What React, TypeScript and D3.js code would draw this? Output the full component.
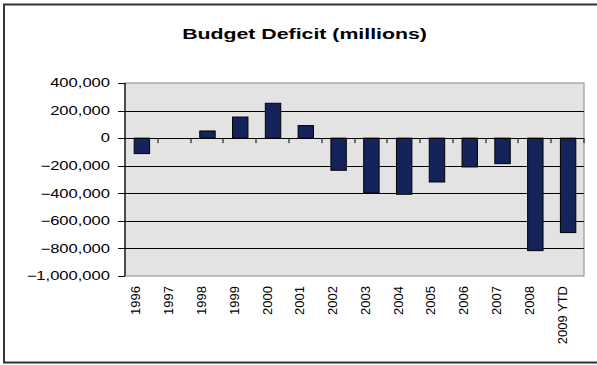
import React from "react";
import * as d3 from "d3";

const categories = ["1996","1997","1998","1999","2000","2001","2002","2003","2004","2005","2006","2007","2008","2009 YTD"];
const deficits = [-112000, 0, 52000, 153000, 253000, 91000, -233000, -398000, -407000, -318000, -209000, -185000, -816000, -685000];
const yTicks = [400000, 200000, 0, -200000, -400000, -600000, -800000, -1000000];
const title = "Budget Deficit (millions)";

const W = 597, H = 365;
const plot = { left: 125, right: 584, top: 83, bottom: 276 };

export default function App() {
  const x = d3.scaleBand<string>().domain(categories).range([plot.left, plot.right]).paddingInner(0).paddingOuter(0);
  const y = d3.scaleLinear().domain([-1000000, 400000]).range([plot.bottom, plot.top]);
  const fmt = d3.format(",");
  const bw = x.bandwidth() * 0.47;
  const y0 = y(0);
  const font = "'Liberation Sans', Arial, sans-serif";
  return (
    <svg width={W} height={H} style={{ position: "absolute", left: 0, top: 0, background: "#fff" }}>
      <rect x={4} y={4.5} width={620} height={358} fill="#fff" stroke="#333" strokeWidth={2} />
      <g transform={`translate(${W / 2 + 6},38.5) scale(1.42,1)`}>
        <text x={0} y={0} textAnchor="middle" fontFamily={font} fontWeight="bold" fontSize={15} fill="#000">{title}</text>
      </g>
      <rect x={plot.left} y={plot.top} width={plot.right - plot.left} height={plot.bottom - plot.top} fill="#e3e3e3" stroke="#999" strokeWidth={1.2} />
      {yTicks.filter(t => t !== 400000 && t !== -1000000 && t !== 0).map(t => (
        <line key={"g" + t} x1={plot.left} x2={plot.right} y1={Math.round(y(t)) + 0.5} y2={Math.round(y(t)) + 0.5} stroke="#000" strokeWidth={1} />
      ))}
      {categories.map((c, i) => {
        const v = deficits[i];
        const top = Math.min(y(v), y0);
        const h = Math.abs(y(v) - y0);
        return (
          <rect key={c} x={(x(c) as number) + x.bandwidth() / 2 - bw / 2 + 0.5} y={top} width={bw} height={h} fill="#14245a" stroke="#000" strokeWidth={1} />
        );
      })}
      <line x1={plot.left} x2={plot.right} y1={Math.round(y0) + 0.5} y2={Math.round(y0) + 0.5} stroke="#000" strokeWidth={1.2} />
      {categories.map((c, i) => {
        const bx = Math.round((x(c) as number) + x.bandwidth());
        return <line key={"t" + c} x1={bx} x2={bx} y1={y0} y2={y0 + 5} stroke="#000" strokeWidth={1} />;
      })}
      <line x1={plot.left} x2={plot.left} y1={plot.top} y2={plot.bottom} stroke="#000" strokeWidth={1.2} />
      {yTicks.map(t => (
        <g key={"y" + t}>
          <line x1={plot.left - 7} x2={plot.left} y1={Math.round(y(t)) + 0.5} y2={Math.round(y(t)) + 0.5} stroke="#000" strokeWidth={1} />
          <g transform={`translate(110,${y(t) + 4.3}) scale(1.38,1)`}>
            <text x={0} y={0} textAnchor="end" fontFamily={font} fontSize={12} fill="#000">{fmt(t)}</text>
          </g>
        </g>
      ))}
      {categories.map(c => (
        <text key={"x" + c} transform={`translate(${(x(c) as number) + x.bandwidth() / 2 - 1},286) rotate(-90)`} textAnchor="end" fontFamily={font} fontSize={13} fill="#000">{c}</text>
      ))}
    </svg>
  );
}
